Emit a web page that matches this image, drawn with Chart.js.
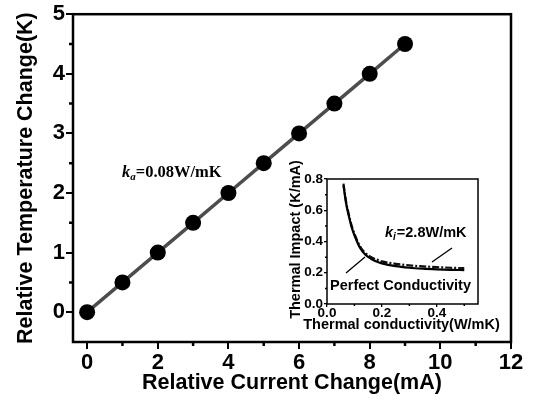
<!DOCTYPE html>
<html>
<head>
<meta charset="utf-8">
<script src="https://cdn.jsdelivr.net/npm/chart.js@4.4.1/dist/chart.umd.min.js"></script>
<style>
  html, body { margin: 0; padding: 0; background: #fff; }
  #wrap { position: relative; width: 536px; height: 403px; overflow: hidden; }
  #mainChart { position: absolute; left: 0; top: 0; }
  #insetChart { position: absolute; left: 280px; top: 150px; }
</style>
</head>
<body>
<div id="wrap">
  <canvas id="mainChart" width="536" height="403"></canvas>
  <canvas id="insetChart" width="230" height="188"></canvas>
</div>
<script>
// main plot data
const currentChange = [0, 1, 2, 3, 4, 5, 6, 7, 8, 9];
const tempChange = [0, 0.5, 1, 1.5, 2, 2.5, 3, 3.5, 4, 4.5];
const mainXTicks = [0, 2, 4, 6, 8, 10, 12];
const mainXMinor = [1, 3, 5, 7, 9, 11];
const mainYTicks = [0, 1, 2, 3, 4, 5];
const mainYMinor = [0.5, 1.5, 2.5, 3.5, 4.5];

// inset data
const conductivity = [0.06, 0.07, 0.08, 0.09, 0.10, 0.12, 0.14, 0.16, 0.18, 0.20, 0.25, 0.30, 0.35, 0.40, 0.45, 0.50];
const impactPerfect = [0.76, 0.64, 0.56, 0.49, 0.44, 0.36, 0.315, 0.29, 0.272, 0.26, 0.242, 0.232, 0.226, 0.222, 0.219, 0.217];
const impactKi = [0.77, 0.65, 0.57, 0.50, 0.45, 0.37, 0.326, 0.301, 0.285, 0.273, 0.257, 0.247, 0.241, 0.236, 0.232, 0.229];
const insetXTicks = [0, 0.2, 0.4];
const insetXMinor = [0.1, 0.3, 0.5];
const insetYTicks = [0, 0.2, 0.4, 0.6, 0.8];
const insetYMinor = [0.1, 0.3, 0.5, 0.7];

const SANS = "'Liberation Sans', Arial, sans-serif";

// frame box + short minor ticks, drawn from the scales
function framePlugin(lw, minorX, minorY, minorLen) {
    return {
        id: 'frame',
        afterDraw(chart) {
            const { ctx, chartArea: a, scales } = chart;
            ctx.save();
            ctx.strokeStyle = '#000';
            ctx.lineWidth = lw;
            ctx.strokeRect(a.left, a.top, a.right - a.left, a.bottom - a.top);
            ctx.beginPath();
            minorX.forEach(v => {
                const px = scales.x.getPixelForValue(v);
                ctx.moveTo(px, a.bottom);
                ctx.lineTo(px, a.bottom + minorLen);
            });
            minorY.forEach(v => {
                const py = scales.y.getPixelForValue(v);
                ctx.moveTo(a.left, py);
                ctx.lineTo(a.left - minorLen, py);
            });
            ctx.stroke();
            ctx.restore();
        }
    };
}

const mainNotes = {
    id: 'mainNotes',
    afterDraw(chart) {
        const ctx = chart.ctx;
        ctx.save();
        ctx.fillStyle = '#000';
        ctx.textBaseline = 'alphabetic';
        let x = 122, y = 177;
        ctx.font = "italic bold 16.5px 'Liberation Serif', serif";
        ctx.fillText('k', x, y);
        x += ctx.measureText('k').width;
        ctx.font = "italic bold 11px 'Liberation Serif', serif";
        ctx.fillText('a', x, y + 3);
        x += ctx.measureText('a').width;
        ctx.font = "bold 16.5px 'Liberation Serif', serif";
        ctx.fillText('=0.08W/mK', x, y);
        ctx.restore();
    }
};

// inset texts: titles drawn here so they are not squeezed to the small axis length
const insetNotes = {
    id: 'insetNotes',
    afterDraw(chart) {
        const ctx = chart.ctx;
        const a = chart.chartArea;
        ctx.save();
        ctx.fillStyle = '#000';
        ctx.strokeStyle = '#000';
        ctx.lineWidth = 1.3;
        ctx.textBaseline = 'alphabetic';
        let x = 105, y = 87;
        ctx.font = 'italic bold 14.5px ' + SANS;
        ctx.fillText('k', x, y);
        x += ctx.measureText('k').width;
        ctx.font = 'italic bold 10px ' + SANS;
        ctx.fillText('i', x, y + 3);
        x += ctx.measureText('i').width + 1;
        ctx.font = 'bold 14.5px ' + SANS;
        ctx.fillText('=2.8W/mK', x, y);
        ctx.fillText('Perfect Conductivity', 50, 140);
        ctx.beginPath();
        ctx.moveTo(172, 98); ctx.lineTo(152, 112);
        ctx.moveTo(66, 123); ctx.lineTo(85, 107);
        ctx.stroke();

        ctx.font = 'bold 14.5px ' + SANS;
        ctx.textAlign = 'center';
        ctx.textBaseline = 'middle';
        ctx.fillText('Thermal conductivity(W/mK)', 121.5, 175);
        ctx.translate(15.5, (a.top + a.bottom) / 2 - 2);
        ctx.rotate(-Math.PI / 2);
        ctx.fillText('Thermal Impact (K/mA)', 0, 0);
        ctx.restore();
    }
};

new Chart(document.getElementById('mainChart'), {
    type: 'line',
    data: {
        datasets: [{
            data: currentChange.map((x, i) => ({ x: x, y: tempChange[i] })),
            borderColor: '#4d4d4d',
            borderWidth: 3.5,
            pointRadius: 8,
            pointBackgroundColor: '#000',
            pointBorderWidth: 0,
            tension: 0
        }]
    },
    options: {
        responsive: false,
        animation: false,
        layout: { padding: { left: 0, right: 25, top: 14, bottom: 0 } },
        plugins: { legend: { display: false }, tooltip: { enabled: false } },
        scales: {
            x: {
                type: 'linear', min: -0.4, max: 12,
                afterBuildTicks: s => { s.ticks = mainXTicks.map(v => ({ value: v })); },
                afterFit: s => { s.height = 61; },
                border: { display: false },
                grid: { drawOnChartArea: false, tickLength: 7, lineWidth: 2, color: '#000' },
                ticks: { color: '#000', padding: 1, maxRotation: 0, font: { family: SANS, size: 22, weight: 'bold' } },
                title: { display: true, text: 'Relative Current Change(mA)', color: '#000', padding: { top: 0, bottom: 7 },
                         font: { family: SANS, size: 21.5, weight: 'bold' } }
            },
            y: {
                type: 'linear', min: -0.5, max: 5,
                afterBuildTicks: s => { s.ticks = mainYTicks.map(v => ({ value: v })); },
                afterFit: s => { s.width = 73; },
                border: { display: false },
                grid: { drawOnChartArea: false, tickLength: 7, lineWidth: 2, color: '#000' },
                ticks: { color: '#000', padding: 1, font: { family: SANS, size: 22, weight: 'bold' } },
                title: { display: true, text: 'Relative Temperature Change(K)', color: '#000', padding: { top: 13, bottom: 0 },
                         font: { family: SANS, size: 21.5, weight: 'bold' } }
            }
        }
    },
    plugins: [framePlugin(2.5, mainXMinor, mainYMinor, 4), mainNotes]
});

new Chart(document.getElementById('insetChart'), {
    type: 'line',
    data: {
        datasets: [{
            data: conductivity.map((x, i) => ({ x: x, y: impactPerfect[i] })),
            borderColor: '#000',
            borderWidth: 2.2,
            pointRadius: 0,
            cubicInterpolationMode: 'monotone'
        }, {
            data: conductivity.map((x, i) => ({ x: x, y: impactKi[i] })),
            borderColor: '#111',
            borderWidth: 2.2,
            borderDash: [7, 2, 2, 2],
            pointRadius: 0,
            cubicInterpolationMode: 'monotone'
        }]
    },
    options: {
        responsive: false,
        animation: false,
        layout: { padding: { left: 0, right: 32, top: 29, bottom: 0 } },
        plugins: { legend: { display: false }, tooltip: { enabled: false } },
        scales: {
            x: {
                type: 'linear', min: 0, max: 0.55,
                afterBuildTicks: s => { s.ticks = insetXTicks.map(v => ({ value: v })); },
                afterFit: s => { s.height = 34; },
                border: { display: false },
                grid: { drawOnChartArea: false, tickLength: 3, lineWidth: 1.3, color: '#000' },
                ticks: { color: '#000', padding: -2, maxRotation: 0, font: { family: SANS, size: 13.5, weight: 'bold' },
                         callback: v => v.toFixed(1) },
                title: { display: false }
            },
            y: {
                type: 'linear', min: 0, max: 0.8,
                afterBuildTicks: s => { s.ticks = insetYTicks.map(v => ({ value: v })); },
                afterFit: s => { s.width = 47; },
                border: { display: false },
                grid: { drawOnChartArea: false, tickLength: 3, lineWidth: 1.3, color: '#000' },
                ticks: { color: '#000', padding: 1, font: { family: SANS, size: 13.5, weight: 'bold' },
                         callback: v => v.toFixed(1) },
                title: { display: false }
            }
        }
    },
    plugins: [framePlugin(1.5, insetXMinor, insetYMinor, 2), insetNotes]
});
</script>
</body>
</html>
